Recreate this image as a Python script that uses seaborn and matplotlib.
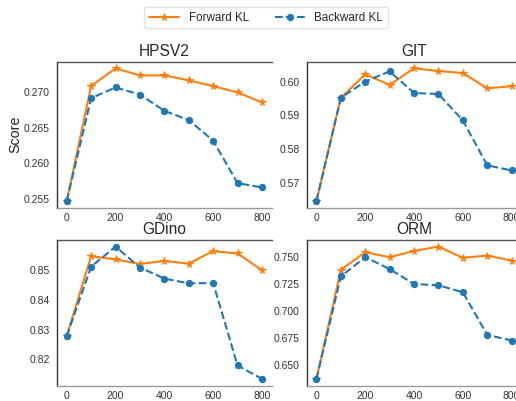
import numpy as np
import pandas as pd
import seaborn as sns
import matplotlib.pyplot as plt

steps = [0, 100, 200, 300, 400, 500, 600, 700, 800]
titles = ["HPSV2", "GIT", "GDino", "ORM"]

hpsv2_fwd = [0.2547, 0.2709, 0.2734, 0.2724, 0.2724, 0.2717, 0.2709, 0.2700, 0.2686]
hpsv2_bwd = [0.2547, 0.2692, 0.2707, 0.2697, 0.2674, 0.2661, 0.2632, 0.2572, 0.2566]
git_fwd = [0.5647, 0.5952, 0.6021, 0.5990, 0.6039, 0.6031, 0.6025, 0.5980, 0.5986]
git_bwd = [0.5647, 0.5952, 0.6000, 0.6030, 0.5966, 0.5963, 0.5885, 0.5752, 0.5737]
gdino_fwd = [0.8279, 0.8546, 0.8535, 0.8520, 0.8530, 0.8521, 0.8563, 0.8555, 0.8499]
gdino_bwd = [0.8279, 0.8511, 0.8578, 0.8508, 0.8471, 0.8455, 0.8456, 0.8180, 0.8135]
orm_fwd = [0.6368, 0.7380, 0.7543, 0.7497, 0.7555, 0.7595, 0.7491, 0.7512, 0.7466]
orm_bwd = [0.6368, 0.7319, 0.7497, 0.7387, 0.7248, 0.7236, 0.7172, 0.6776, 0.6724]

fwd_all = [hpsv2_fwd, git_fwd, gdino_fwd, orm_fwd]
bwd_all = [hpsv2_bwd, git_bwd, gdino_bwd, orm_bwd]

x_ticks = [0, 200, 400, 600, 800]
y_ticks = [
    [0.255, 0.260, 0.265, 0.270],
    [0.57, 0.58, 0.59, 0.60],
    [0.82, 0.83, 0.84, 0.85],
    [0.650, 0.675, 0.700, 0.725, 0.750],
]
y_fmt = ["%.3f", "%.2f", "%.2f", "%.3f"]

sns.set_style("white")
plt.rcParams["font.family"] = ["Liberation Sans", "DejaVu Sans"]

W, H = 516, 401
fig = plt.figure(figsize=(W / 100, H / 100), dpi=100)

# axes boxes in pixels: left, top, bottom (right column runs past the edge)
ax_w = 214.7
boxes = [(57, 61.7, 207.5), (306.7, 61.7, 207.5), (57, 240, 385.5), (306.7, 240, 385.5)]

orange = "#ff7f0e"
blue = "#1f77b4"

for i, (l, t, b) in enumerate(boxes):
    ax = fig.add_axes([l / W, (H - b) / H, ax_w / W, (b - t) / H])
    df = pd.DataFrame({"step": steps, "fwd": fwd_all[i], "bwd": bwd_all[i]})
    sns.lineplot(data=df, x="step", y="fwd", ax=ax, color=orange, marker="*",
                 markersize=5.5, markeredgecolor=orange, linewidth=1.5, label="Forward KL")
    sns.lineplot(data=df, x="step", y="bwd", ax=ax, color=blue, marker="o",
                 markersize=4.5, markeredgecolor=blue, linestyle="--", linewidth=1.5,
                 label="Backward KL")
    ax.set_title(titles[i], fontsize=11.2, pad=4, color="#262626")
    ax.set_xlabel("")
    ax.set_ylabel("Score" if i == 0 else "", fontsize=10.3, color="#262626", labelpad=1)
    ax.set_xticks(x_ticks)
    ax.set_yticks(y_ticks[i])
    ax.yaxis.set_major_formatter(plt.FormatStrFormatter(y_fmt[i]))
    ax.tick_params(labelsize=7.5, colors="#333333")
    ax.tick_params(axis="x", pad=0.5)
    ax.tick_params(axis="y", pad=1.5)
    ax.spines["right"].set_visible(False)
    ax.spines["top"].set_color("#555555")
    ax.spines["left"].set_color("#333333")
    ax.spines["bottom"].set_color("#999999")
    for s in ["top", "left", "bottom"]:
        ax.spines[s].set_linewidth(1.0)
    handles, labels = ax.get_legend_handles_labels()
    ax.get_legend().remove()

fig.legend(handles, labels, loc="upper center", bbox_to_anchor=(266 / W, 0.997),
           ncol=2, fontsize=8.4, frameon=True, edgecolor="#dddddd",
           handlelength=2.6, columnspacing=2.2)

fig.savefig("out.png", dpi=100)
